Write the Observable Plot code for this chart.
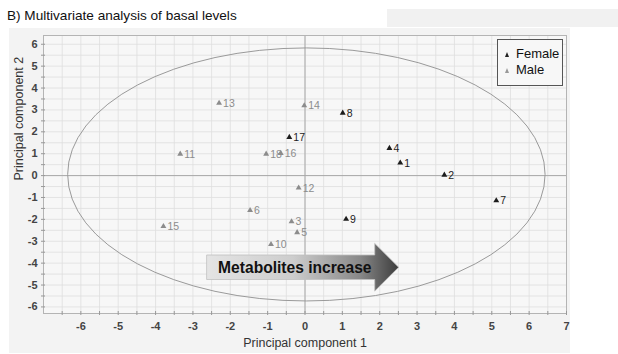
<!DOCTYPE html>
<html>
<head>
<meta charset="utf-8">
<script src="https://cdn.jsdelivr.net/npm/d3@7"></script>
<script src="https://cdn.jsdelivr.net/npm/@observablehq/plot@0.6"></script>
<style>
  html, body { margin: 0; padding: 0; background: #fff; width: 618px; height: 354px; overflow: hidden; font-family: "Liberation Sans", Arial, sans-serif; }
  #title { position: absolute; left: 7px; top: 8px; font-size: 13.6px; line-height: 16px; color: #111; white-space: nowrap; }
  #strip { position: absolute; left: 387px; top: 9px; width: 231px; height: 18px; background: #f1f1f1; }
  #panel { position: absolute; left: 9px; top: 28px; width: 561px; height: 325px; background: #f3f3f3; }
  #chart { position: absolute; left: 0; top: 30px; }
  #legend { position: absolute; left: 497px; top: 39px; width: 64px; height: 45px; border: 1.5px solid #555; background: #f7f7f7; font-size: 13px; color: #111; }
  #legend div { position: absolute; left: 7px; white-space: nowrap; }
  #legend span.tri { display: inline-block; width: 0; height: 0; border-left: 2.5px solid transparent; border-right: 2.5px solid transparent; border-bottom: 5px solid #222; margin-right: 7px; vertical-align: 1px; }
</style>
</head>
<body>
<div id="strip"></div>
<div id="panel"></div>
<div id="title">B) Multivariate analysis of basal levels</div>
<div id="chart"></div>
<div id="legend">
  <div style="top:6px"><span class="tri"></span>Female</div>
  <div style="top:22px"><span class="tri" style="border-bottom-color:#999"></span>Male</div>
</div>
<script>
// Sample labels, scores on principal components, and sex
const ids  = [1, 2, 3, 4, 5, 6, 7, 8, 9, 10, 11, 12, 13, 14, 15, 16, 17, 18];
const pc1  = [2.55, 3.73, -0.36, 2.26, -0.21, -1.47, 5.12, 1.01, 1.10, -0.91, -3.34, -0.17, -2.30, -0.02, -3.79, -0.65, -0.42, -1.04];
const pc2  = [0.58, 0.03, -2.10, 1.25, -2.60, -1.59, -1.14, 2.86, -1.99, -3.14, 0.99, -0.56, 3.31, 3.20, -2.32, 1.02, 1.75, 0.99];
const sex  = ["Female", "Female", "Male", "Female", "Male", "Male", "Female", "Female", "Female", "Male", "Male", "Male", "Male", "Male", "Male", "Male", "Female", "Male"];

// Axis ticks
const xTickLabels = [-6, -5, -4, -3, -2, -1, 0, 1, 2, 3, 4, 5, 6, 7];
const yTickLabels = [-6, -5, -4, -3, -2, -1, 0, 1, 2, 3, 4, 5, 6];
const xMinor = d3.range(-6.5, 7.01, 0.5);
const yMinor = d3.range(-6, 6.01, 0.5);

// Hotelling ellipse (center, radii) and annotation arrow
const ellipseCenter = [0.05, 0.03];
const ellipseRadii = [6.39, 5.78];
const arrowText = "Metabolites increase";
const arrowX = [-2.62, 1.88, 2.52];   // tail, head base, tip
const arrowY = -4.21;
const arrowHalf = [0.56, 1.09];       // body half-height, head half-height

const colors = {Female: "#1c1c1c", Male: "#8c8c8c"};
const data = ids.map((id, i) => ({id, x: pc1[i], y: pc2[i], sex: sex[i]}));

function ellipseMark(index, {x, y}) {
  const g = d3.create("svg:g");
  const cx = x(ellipseCenter[0]), cy = y(ellipseCenter[1]);
  g.append("ellipse")
    .attr("cx", cx).attr("cy", cy)
    .attr("rx", Math.abs(x(ellipseCenter[0] + ellipseRadii[0]) - cx))
    .attr("ry", Math.abs(y(ellipseCenter[1] + ellipseRadii[1]) - cy))
    .attr("fill", "none").attr("stroke", "#9a9a9a").attr("stroke-width", 1);
  return g.node();
}

function arrowMark(index, {x, y}) {
  const g = d3.create("svg:g");
  const x0 = x(arrowX[0]), x1 = x(arrowX[1]), x2 = x(arrowX[2]);
  const yc = y(arrowY);
  const h1 = Math.abs(y(arrowY + arrowHalf[0]) - yc);
  const h2 = Math.abs(y(arrowY + arrowHalf[1]) - yc);
  const grad = g.append("defs").append("linearGradient")
    .attr("id", "arrowGrad").attr("gradientUnits", "userSpaceOnUse")
    .attr("x1", x0).attr("x2", x2).attr("y1", 0).attr("y2", 0);
  grad.append("stop").attr("offset", "0%").attr("stop-color", "#e4e4e4");
  grad.append("stop").attr("offset", "45%").attr("stop-color", "#cdcdcd");
  grad.append("stop").attr("offset", "80%").attr("stop-color", "#888");
  grad.append("stop").attr("offset", "100%").attr("stop-color", "#3c3c3c");
  const pts = [[x0, yc - h1], [x1, yc - h1], [x1, yc - h2], [x2, yc], [x1, yc + h2], [x1, yc + h1], [x0, yc + h1]];
  g.append("path")
    .attr("d", "M" + pts.map(p => p.join(",")).join("L") + "Z")
    .attr("fill", "url(#arrowGrad)")
    .attr("stroke", "#c0c0c0").attr("stroke-width", 0.8);
  g.append("text")
    .attr("x", x0 + 11.5).attr("y", yc).attr("dy", "0.36em")
    .attr("text-anchor", "start")
    .attr("font-family", "Liberation Sans, Arial, sans-serif")
    .attr("font-weight", "bold").attr("font-size", 15.6).attr("fill", "#111")
    .text(arrowText);
  return g.node();
}

const chart = Plot.plot({
  width: 618,
  height: 324,
  marginLeft: 43,
  marginRight: 52,
  marginTop: 5,
  marginBottom: 41,
  style: {background: "transparent", fontFamily: "Liberation Sans, Arial, sans-serif"},
  x: {domain: [-7, 7]},
  y: {domain: [-6.3, 6.4]},
  marks: [
    Plot.frame({fill: "#f7f7f7", stroke: "none"}),
    Plot.gridX(xMinor, {stroke: "#dedede", strokeOpacity: 1, strokeWidth: 0.8}),
    Plot.gridY(yMinor, {stroke: "#dedede", strokeOpacity: 1, strokeWidth: 0.8}),
    Plot.ruleX([0], {stroke: "#a8a8a8", strokeWidth: 1}),
    Plot.ruleY([0], {stroke: "#a8a8a8", strokeWidth: 1}),
    Plot.frame({stroke: "#b4b4b4", strokeWidth: 1}),
    ellipseMark,
    Plot.axisX(xMinor, {label: null, tickSize: 4, tickPadding: 0, text: null, stroke: "#999", dy: -2}),
    Plot.axisX(xTickLabels, {label: null, tickSize: 0, tickPadding: 9, fontSize: 11, fontWeight: "bold", fill: "#444", tickFormat: d => String(d)}),
    Plot.axisY(yMinor, {label: null, tickSize: 4, tickPadding: 0, text: null, stroke: "#999", dx: 2}),
    Plot.axisY(yTickLabels, {label: null, tickSize: 0, tickPadding: 6, fontSize: 11, fontWeight: "bold", fill: "#444", tickFormat: d => String(d)}),
    Plot.dot(data, {x: "x", y: "y", symbol: "triangle", r: 2.2, fill: d => colors[d.sex], stroke: "none"}),
    Plot.text(data, {x: "x", y: "y", text: "id", dx: 4, dy: 0.5, textAnchor: "start", fontSize: 10.5, fill: d => colors[d.sex]}),
    arrowMark,
    Plot.text(["Principal component 1"], {frameAnchor: "bottom", dy: 33, fontSize: 12.5, fill: "#333"}),
    Plot.text(["Principal component 2"], {frameAnchor: "left", dx: -25, dy: 6, rotate: -90, fontSize: 12.5, fill: "#333"})
  ]
});
document.getElementById("chart").appendChild(chart);
</script>
</body>
</html>
